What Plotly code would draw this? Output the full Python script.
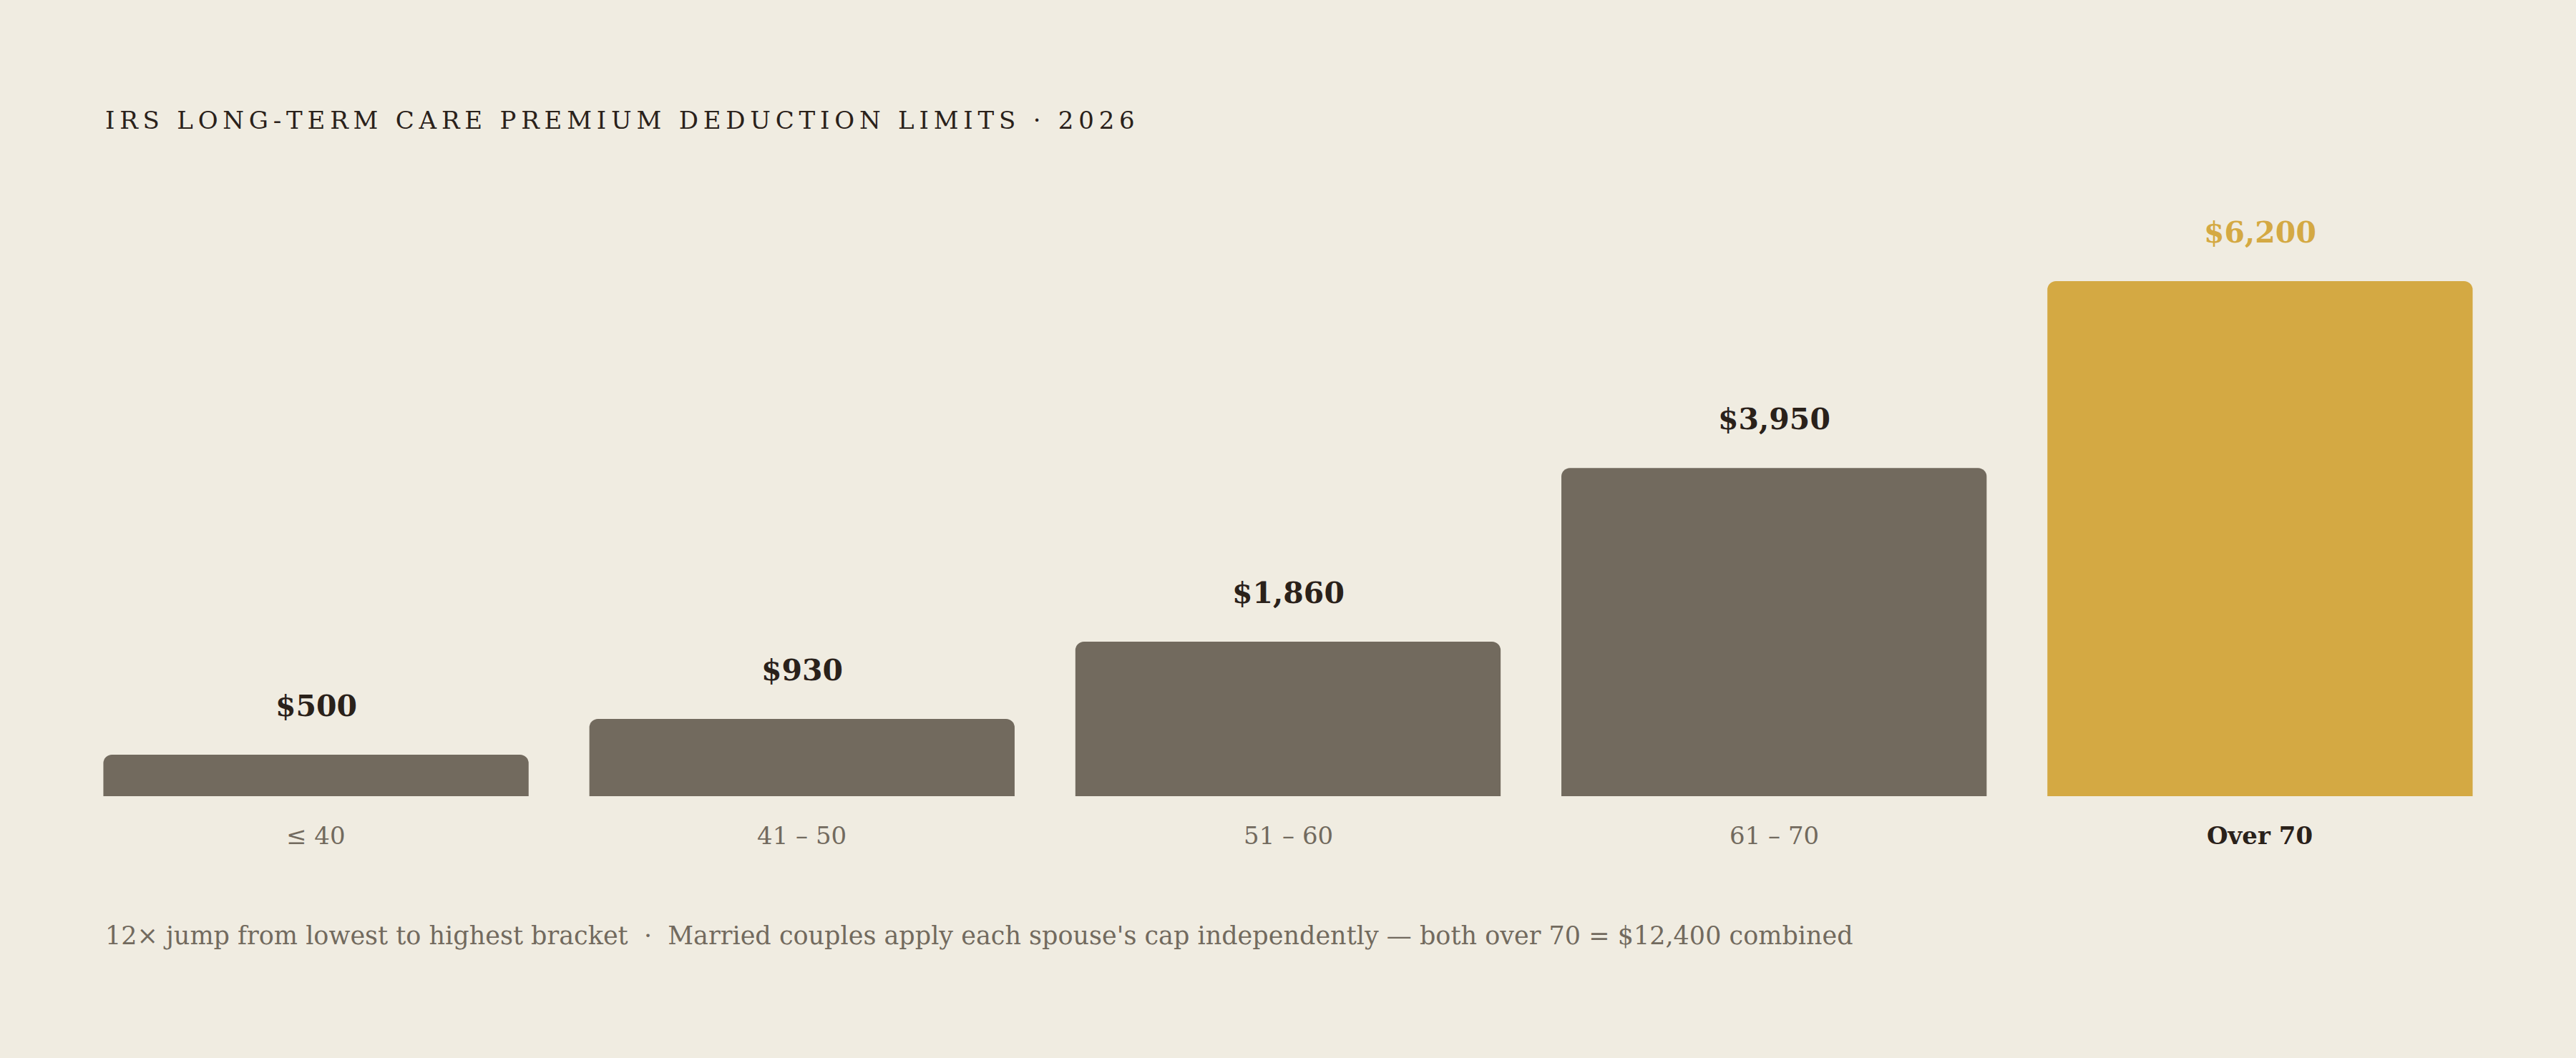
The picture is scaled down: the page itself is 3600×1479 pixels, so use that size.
import plotly.graph_objects as go

# data
brackets = ["≤ 40", "41 – 50", "51 – 60", "61 – 70", "Over 70"]
limits = [500, 930, 1860, 3950, 6200]
value_labels = ["$500", "$930", "$1,860", "$3,950", "$6,200"]
highlight = "Over 70"

title = "IRS LONG-TERM CARE PREMIUM DEDUCTION LIMITS · 2026"
footer = ("12× jump from lowest to highest bracket  ·  Married couples apply each "
          "spouse's cap independently — both over 70 = $12,400 combined")

BG = "#f0ece1"
GREY = "#726a5e"
GOLD = "#d4a943"
INK = "#2a211a"
SERIF = "DejaVu Serif"

W, H = 3600, 1479
base_px = 1113          # pixel row of the zero line
plot_h = base_px        # top margin 0
px_per_unit = 720 / 6200


def py(y):
    return (base_px - y) / plot_h


colors = [GOLD if b == highlight else GREY for b in brackets]

fig = go.Figure()
fig.add_trace(go.Bar(
    x=brackets, y=limits,
    marker=dict(color=colors, cornerradius=12, line=dict(width=0)),
    hoverinfo="skip",
))

# value labels over bars
for b, v, lab, c in zip(brackets, limits, value_labels, colors):
    fig.add_annotation(
        x=b, y=v, text="<b>" + lab + "</b>", showarrow=False,
        yanchor="middle", yshift=68,
        font=dict(family=SERIF, size=41, color=GOLD if b == highlight else INK),
    )
    # bracket labels under bars
    fig.add_annotation(
        x=b, y=0, text=("<b>" + b + "</b>") if b == highlight else b,
        showarrow=False, yanchor="middle", yshift=-55,
        font=dict(family=SERIF, size=34, color=INK if b == highlight else GREY),
    )

spaced = "\u2009".join(title)
fig.add_annotation(
    xref="paper", yref="paper", x=0, y=py(168), xshift=43,
    xanchor="left", yanchor="middle", text=spaced, showarrow=False,
    font=dict(family=SERIF, size=34, color=INK),
)
fig.add_annotation(
    xref="paper", yref="paper", x=0, y=py(1308), xshift=43,
    xanchor="left", yanchor="middle", text=footer, showarrow=False,
    font=dict(family=SERIF, size=35, color=GREY),
)

fig.update_layout(
    width=W, height=H,
    paper_bgcolor=BG, plot_bgcolor=BG,
    margin=dict(l=102, r=102, t=0, b=H - base_px),
    bargap=0.125, showlegend=False,
    xaxis=dict(showticklabels=False, showgrid=False, zeroline=False,
               showline=False, ticks="", range=[-0.5, 4.5]),
    yaxis=dict(range=[0, plot_h / px_per_unit], visible=False),
)

fig.write_html("out.html",
               config={"displayModeBar": False},
               post_script="document.body.style.margin='0';"
                           "document.body.style.background='" + BG + "';")
